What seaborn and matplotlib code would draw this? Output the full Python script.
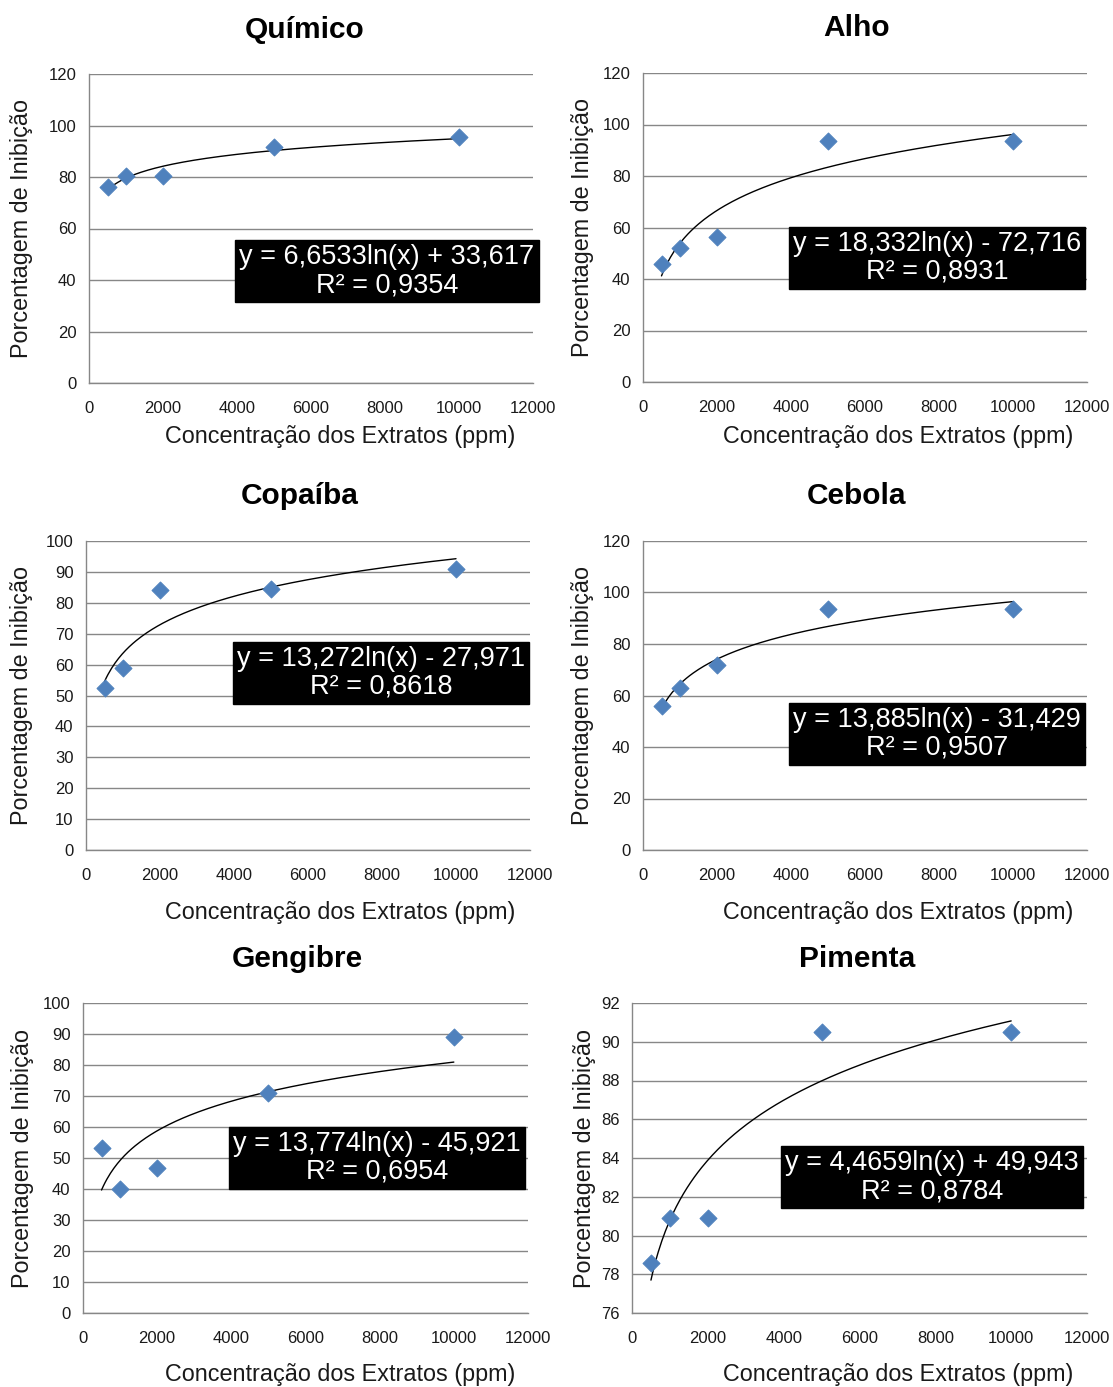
import numpy as np
import pandas as pd
import matplotlib
matplotlib.use("Agg")
import matplotlib.pyplot as plt
import seaborn as sns

# concentrations used in every panel (ppm)
conc = [500, 1000, 2000, 5000, 10000]

titles = ['Químico', 'Alho', 'Copaíba', 'Cebola', 'Gengibre', 'Pimenta']

quimico = [76.3, 80.3, 80.3, 91.5, 95.5]
alho = [46.0, 52.0, 56.5, 93.5, 93.5]
copaiba = [52.5, 59.0, 84.2, 84.5, 91.0]
cebola = [56.0, 63.0, 72.0, 93.5, 93.5]
gengibre = [53.3, 40.0, 46.7, 71.0, 89.0]
pimenta = [78.6, 80.9, 80.9, 90.5, 90.5]
series = [quimico, alho, copaiba, cebola, gengibre, pimenta]

# logarithmic trendline coefficients y = a ln(x) + b
coef_a = [6.6533, 18.332, 13.272, 13.885, 13.774, 4.4659]
coef_b = [33.617, -72.716, -27.971, -31.429, -45.921, 49.943]
equations = ['y = 6,6533ln(x) + 33,617', 'y = 18,332ln(x) - 72,716',
             'y = 13,272ln(x) - 27,971', 'y = 13,885ln(x) - 31,429',
             'y = 13,774ln(x) - 45,921', 'y = 4,4659ln(x) + 49,943']
r2 = ['R² = 0,9354', 'R² = 0,8931', 'R² = 0,8618', 'R² = 0,9507',
      'R² = 0,6954', 'R² = 0,8784']

ylims = [(0, 120, 20), (0, 120, 20), (0, 100, 10), (0, 120, 20), (0, 100, 10), (76, 92, 2)]
xticks = [0, 2000, 4000, 6000, 8000, 10000, 12000]

xlabel = 'Concentração dos Extratos (ppm)'
ylabel = 'Porcentagem de Inibição'

W, H = 1113, 1387
sns.set_style('white')
plt.rcParams['font.family'] = ['Liberation Sans', 'DejaVu Sans']

fig = plt.figure(figsize=(W / 100, H / 100), dpi=100)

# plot area boxes in pixels: left, top, right, bottom
boxes = [(89, 74, 533, 383), (643, 73, 1087, 382),
         (86, 541, 530, 850), (643, 541, 1087, 850),
         (83, 1003, 528, 1313), (632, 1003, 1087, 1313)]
title_pos = [(305, 30), (857, 28), (300, 496), (857, 496), (297, 959), (857, 959)]
ylab_x = [22, 582, 22, 582, 22, 585]
xlab_pos = [(340, 437), (898, 437), (340, 912), (898, 912), (340, 1374), (898, 1374)]
eq_pos = [(387, 271), (937, 258), (381, 673), (937, 734), (377, 1158), (932, 1177)]

grey = '#878787'
ink = '#1a1a1a'

for i in range(6):
    l, t, r, b = boxes[i]
    ax = fig.add_axes([l / W, 1 - b / H, (r - l) / W, (b - t) / H])
    df = pd.DataFrame({'x': conc, 'y': series[i]})
    xs = np.linspace(500, 10000, 200)
    trend = pd.DataFrame({'x': xs, 'y': coef_a[i] * np.log(xs) + coef_b[i]})
    sns.lineplot(data=trend, x='x', y='y', ax=ax, color='black', linewidth=1.0, zorder=3)
    sns.scatterplot(data=df, x='x', y='y', ax=ax, marker='D', s=75,
                    color='#4F81BD', edgecolor='#4F81BD', zorder=4)

    y0, y1, st = ylims[i]
    ax.set_xlim(0, 12000)
    ax.set_ylim(y0, y1)
    ax.set_xticks(xticks)
    ax.set_yticks(np.arange(y0, y1 + st / 2, st))
    ax.yaxis.grid(True, color=grey, linewidth=1.0)
    ax.set_axisbelow(True)
    for s in ['top', 'right']:
        ax.spines[s].set_visible(False)
    for s in ['left', 'bottom']:
        ax.spines[s].set_color(grey)
        ax.spines[s].set_linewidth(1.0)
    ax.tick_params(axis='both', length=5, width=1, color=grey, labelsize=12,
                   labelcolor=ink, direction='out', pad=4)
    ax.tick_params(axis='x', pad=8)

    ax.set_xlabel(xlabel, fontsize=16.8, color=ink, va='center')
    ax.xaxis.set_label_coords((xlab_pos[i][0] - l) / (r - l), (b - xlab_pos[i][1]) / (b - t))
    ax.set_ylabel(ylabel, fontsize=16.8, color=ink, va='center')
    ax.yaxis.set_label_coords((ylab_x[i] - l) / (r - l), 0.5)

    fig.text(title_pos[i][0] / W, 1 - title_pos[i][1] / H, titles[i],
             fontsize=21.5, fontweight='bold', color='black', ha='center', va='center')
    fig.text(eq_pos[i][0] / W, 1 - eq_pos[i][1] / H, equations[i] + '\n' + r2[i],
             fontsize=19.5, color='white', ha='center', va='center',
             multialignment='center', linespacing=1.1,
             bbox=dict(boxstyle='square,pad=0.15', facecolor='black', edgecolor='black'))

fig.savefig('out.png', dpi=100, facecolor='white')
